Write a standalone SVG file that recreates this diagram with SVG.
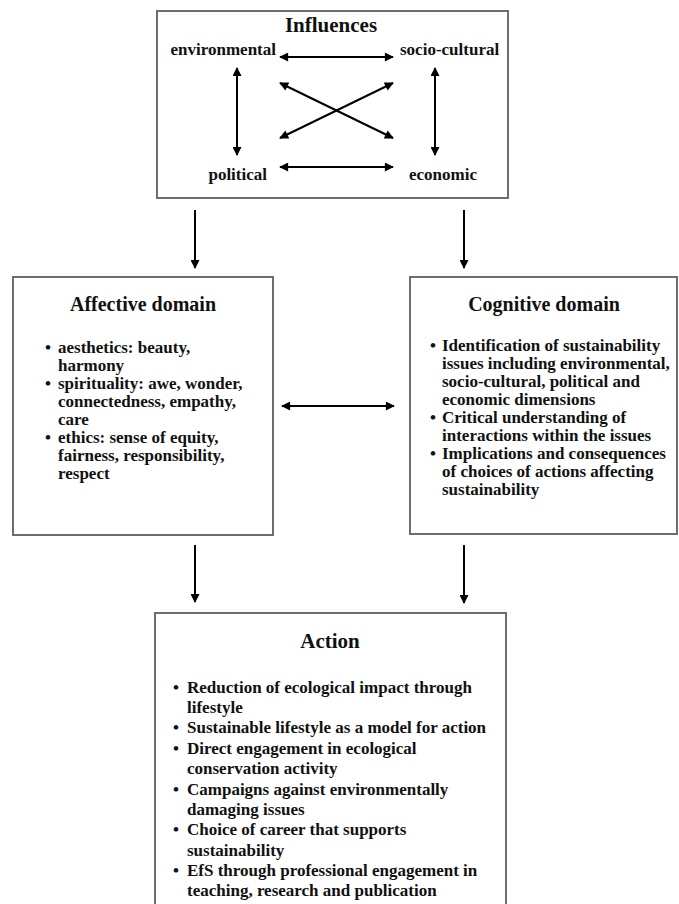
<svg xmlns="http://www.w3.org/2000/svg" width="679" height="904" viewBox="0 0 679 904">
<defs>
<marker id="ah" viewBox="0 0 10 10" refX="9" refY="5" markerWidth="5" markerHeight="4.5" orient="auto-start-reverse" markerUnits="strokeWidth">
<path d="M0,0 L10,5 L0,10 z" fill="#000"/>
</marker>
</defs>
<style>
.box{fill:#fff;stroke:#6e6e6e;stroke-width:2}
text{font-family:"Liberation Serif","Times New Roman",serif;font-weight:bold;fill:#111}
.t{font-size:20px;text-anchor:middle}
.t2{font-size:21px;text-anchor:middle}
.lbl{font-size:17px}
.b{font-size:17px}
.a{fill:none;stroke:#000;stroke-width:2}
</style>
<rect width="679" height="904" fill="#fff"/>
<g id="influences">
<rect class="box" x="157" y="11" width="351" height="187"/>
<text class="t2" x="331" y="32">Influences</text>
<text class="lbl" x="276" y="55" text-anchor="end">environmental</text>
<text class="lbl" x="400" y="55">socio-cultural</text>
<text class="lbl" x="267" y="180" text-anchor="end">political</text>
<text class="lbl" x="409" y="180">economic</text>
</g>
<g id="affective">
<rect class="box" x="13" y="277" width="260" height="258"/>
<text class="t" x="143" y="311">Affective domain</text>
<g class="b">
<text x="45" y="353">•</text><text x="58" y="353">aesthetics: beauty,</text>
<text x="58" y="371">harmony</text>
<text x="45" y="389">•</text><text x="58" y="389">spirituality: awe, wonder,</text>
<text x="58" y="407">connectedness, empathy,</text>
<text x="58" y="425">care</text>
<text x="45" y="443">•</text><text x="58" y="443">ethics: sense of equity,</text>
<text x="58" y="461">fairness, responsibility,</text>
<text x="58" y="479">respect</text>
</g>
</g>
<g id="cognitive">
<rect class="box" x="410" y="277" width="267" height="257"/>
<text class="t" x="544" y="311">Cognitive domain</text>
<g class="b">
<text x="430" y="351">•</text><text x="442" y="351">Identification of sustainability</text>
<text x="442" y="369">issues including environmental,</text>
<text x="442" y="387">socio-cultural, political and</text>
<text x="442" y="405">economic dimensions</text>
<text x="430" y="423">•</text><text x="442" y="423">Critical understanding of</text>
<text x="442" y="441">interactions within the issues</text>
<text x="430" y="459">•</text><text x="442" y="459">Implications and consequences</text>
<text x="442" y="477">of choices of actions affecting</text>
<text x="442" y="495">sustainability</text>
</g>
</g>
<g id="action">
<rect class="box" x="155" y="613" width="351" height="310"/>
<text class="t2" x="330" y="648">Action</text>
<g class="b">
<text x="173" y="693">•</text><text x="187" y="693">Reduction of ecological impact through</text>
<text x="187" y="713">lifestyle</text>
<text x="173" y="733">•</text><text x="187" y="733">Sustainable lifestyle as a model for action</text>
<text x="173" y="754">•</text><text x="187" y="754">Direct engagement in ecological</text>
<text x="187" y="774">conservation activity</text>
<text x="173" y="795">•</text><text x="187" y="795">Campaigns against environmentally</text>
<text x="187" y="815">damaging issues</text>
<text x="173" y="835">•</text><text x="187" y="835">Choice of career that supports</text>
<text x="187" y="856">sustainability</text>
<text x="173" y="876">•</text><text x="187" y="876">EfS through professional engagement in</text>
<text x="187" y="896">teaching, research and publication</text>
</g>
</g>
<g id="connectors">
<line class="a" x1="280" y1="57" x2="393" y2="57" marker-start="url(#ah)" marker-end="url(#ah)"/>
<line class="a" x1="280" y1="167" x2="393" y2="167" marker-start="url(#ah)" marker-end="url(#ah)"/>
<line class="a" x1="237" y1="68" x2="237" y2="155" marker-start="url(#ah)" marker-end="url(#ah)"/>
<line class="a" x1="435" y1="68" x2="435" y2="155" marker-start="url(#ah)" marker-end="url(#ah)"/>
<line class="a" x1="280" y1="83" x2="393" y2="138" marker-start="url(#ah)" marker-end="url(#ah)"/>
<line class="a" x1="393" y1="83" x2="280" y2="138" marker-start="url(#ah)" marker-end="url(#ah)"/>
<line class="a" x1="195" y1="210" x2="195" y2="268" marker-end="url(#ah)"/>
<line class="a" x1="464" y1="210" x2="464" y2="268" marker-end="url(#ah)"/>
<line class="a" x1="282" y1="406" x2="394" y2="406" marker-start="url(#ah)" marker-end="url(#ah)"/>
<line class="a" x1="195" y1="545" x2="195" y2="602" marker-end="url(#ah)"/>
<line class="a" x1="464" y1="545" x2="464" y2="603" marker-end="url(#ah)"/>
</g>
</svg>
